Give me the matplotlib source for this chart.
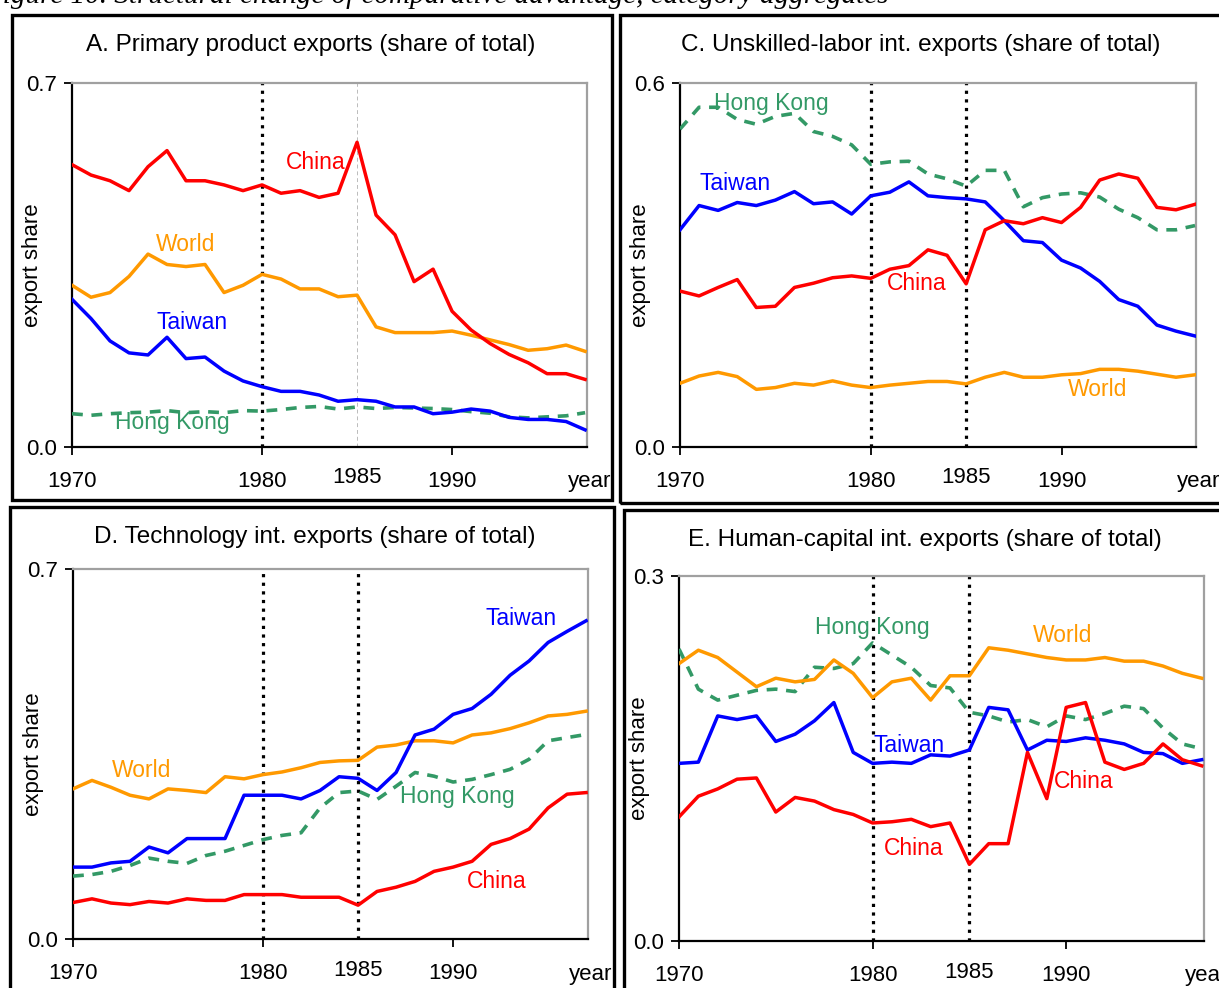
import matplotlib
matplotlib.use("Agg")
import matplotlib.pyplot as plt
from matplotlib.patches import Rectangle

plt.rcParams["font.family"] = ["Liberation Sans", "DejaVu Sans"]

years = list(range(1970, 1998))

# A. Primary product exports
a_china = [0.543, 0.523, 0.512, 0.493, 0.539, 0.570, 0.512, 0.512, 0.504, 0.493,
           0.504, 0.488, 0.493, 0.480, 0.488, 0.586, 0.446, 0.408, 0.318, 0.342,
           0.261, 0.225, 0.199, 0.178, 0.162, 0.141, 0.141, 0.130]
a_world = [0.311, 0.288, 0.297, 0.328, 0.371, 0.351, 0.347, 0.351, 0.297, 0.311,
           0.332, 0.323, 0.304, 0.304, 0.289, 0.292, 0.231, 0.220, 0.220, 0.220,
           0.223, 0.215, 0.206, 0.197, 0.186, 0.189, 0.196, 0.184]
a_taiwan = [0.284, 0.247, 0.204, 0.181, 0.177, 0.211, 0.170, 0.173, 0.146, 0.127,
            0.116, 0.107, 0.107, 0.100, 0.088, 0.091, 0.088, 0.077, 0.077, 0.064,
            0.067, 0.073, 0.069, 0.057, 0.053, 0.053, 0.049, 0.033]
a_hk = [0.064, 0.061, 0.064, 0.066, 0.067, 0.070, 0.066, 0.068, 0.066, 0.070,
        0.069, 0.072, 0.076, 0.078, 0.073, 0.077, 0.074, 0.076, 0.075, 0.074,
        0.072, 0.068, 0.065, 0.058, 0.056, 0.058, 0.060, 0.066]

# C. Unskilled-labor intensive exports
c_china = [0.257, 0.249, 0.263, 0.276, 0.230, 0.232, 0.263, 0.270, 0.279, 0.282,
           0.278, 0.293, 0.299, 0.325, 0.316, 0.269, 0.358, 0.373, 0.368, 0.378,
           0.370, 0.395, 0.440, 0.450, 0.443, 0.395, 0.391, 0.400]
c_world = [0.105, 0.117, 0.123, 0.116, 0.095, 0.098, 0.105, 0.102, 0.109, 0.102,
           0.098, 0.102, 0.105, 0.108, 0.108, 0.104, 0.115, 0.123, 0.115, 0.115,
           0.119, 0.121, 0.128, 0.128, 0.125, 0.120, 0.115, 0.119]
c_taiwan = [0.358, 0.398, 0.390, 0.403, 0.398, 0.407, 0.421, 0.401, 0.404, 0.384,
            0.414, 0.420, 0.437, 0.414, 0.411, 0.409, 0.404, 0.373, 0.340, 0.337,
            0.308, 0.295, 0.273, 0.243, 0.232, 0.201, 0.191, 0.183]
c_hk = [0.524, 0.560, 0.560, 0.540, 0.532, 0.545, 0.550, 0.520, 0.512, 0.498,
        0.466, 0.470, 0.471, 0.450, 0.442, 0.430, 0.456, 0.456, 0.396, 0.411,
        0.417, 0.419, 0.412, 0.392, 0.378, 0.358, 0.358, 0.365]

# D. Technology intensive exports
d_china = [0.069, 0.076, 0.068, 0.065, 0.071, 0.068, 0.076, 0.073, 0.073, 0.084,
           0.084, 0.084, 0.079, 0.079, 0.079, 0.064, 0.090, 0.098, 0.109, 0.128,
           0.136, 0.147, 0.179, 0.190, 0.208, 0.248, 0.274, 0.277]
d_world = [0.284, 0.300, 0.287, 0.272, 0.265, 0.284, 0.281, 0.277, 0.307, 0.303,
           0.311, 0.316, 0.324, 0.334, 0.337, 0.338, 0.363, 0.367, 0.375, 0.375,
           0.371, 0.386, 0.390, 0.398, 0.409, 0.422, 0.425, 0.431]
d_taiwan = [0.136, 0.136, 0.144, 0.147, 0.174, 0.163, 0.190, 0.190, 0.190, 0.272,
            0.272, 0.272, 0.265, 0.281, 0.307, 0.304, 0.281, 0.315, 0.386, 0.397,
            0.425, 0.436, 0.463, 0.499, 0.526, 0.561, 0.582, 0.602]
d_hk = [0.119, 0.122, 0.128, 0.139, 0.153, 0.147, 0.143, 0.158, 0.166, 0.177,
        0.188, 0.196, 0.201, 0.248, 0.277, 0.280, 0.264, 0.289, 0.315, 0.308,
        0.297, 0.302, 0.311, 0.321, 0.340, 0.375, 0.381, 0.387]

# E. Human-capital intensive exports
e_china = [0.102, 0.119, 0.125, 0.133, 0.134, 0.106, 0.118, 0.115, 0.108, 0.104,
           0.097, 0.098, 0.100, 0.094, 0.097, 0.063, 0.080, 0.080, 0.155, 0.117,
           0.192, 0.196, 0.147, 0.141, 0.146, 0.162, 0.149, 0.144]
e_world = [0.228, 0.239, 0.233, 0.221, 0.209, 0.216, 0.213, 0.215, 0.231, 0.220,
           0.200, 0.213, 0.216, 0.198, 0.218, 0.218, 0.241, 0.239, 0.236, 0.233,
           0.231, 0.231, 0.233, 0.230, 0.230, 0.226, 0.220, 0.216]
e_taiwan = [0.146, 0.147, 0.185, 0.182, 0.185, 0.164, 0.170, 0.181, 0.196, 0.155,
            0.146, 0.147, 0.146, 0.153, 0.152, 0.157, 0.192, 0.190, 0.157, 0.165,
            0.164, 0.167, 0.165, 0.162, 0.155, 0.154, 0.146, 0.149]
e_hk = [0.240, 0.207, 0.198, 0.202, 0.206, 0.207, 0.205, 0.225, 0.224, 0.228,
        0.245, 0.235, 0.225, 0.210, 0.208, 0.188, 0.185, 0.180, 0.182, 0.176,
        0.185, 0.182, 0.187, 0.193, 0.191, 0.175, 0.162, 0.158]

RED = "#ff0000"
BLUE = "#0000ff"
ORANGE = "#ff9900"
GREEN = "#339966"

W, H = 1219, 988
fig = plt.figure(figsize=(W / 100, H / 100), dpi=100)


def px_box(x0, y0, x1, y1):
    # pixel box (top-left origin) -> figure fraction rect
    return [x0 / W, 1 - y1 / H, (x1 - x0) / W, (y1 - y0) / H]


def panel(rect, xmax, ymax, china, world, taiwan, hk, labels, grey85=False):
    ax = fig.add_axes(px_box(*rect))
    ax.plot(years, hk, color=GREEN, lw=2.6, dashes=(3.0, 2.4), zorder=3)
    ax.plot(years, world, color=ORANGE, lw=2.5, zorder=4)
    ax.plot(years, taiwan, color=BLUE, lw=2.5, zorder=5)
    ax.plot(years, china, color=RED, lw=2.5, zorder=6)

    ax.axvline(1980, color="black", lw=2.3, dashes=(1, 1.7), zorder=2)
    if grey85:
        ax.axvline(1985, color="#bbbbbb", lw=0.7, dashes=(4, 3), zorder=2)
    else:
        ax.axvline(1985, color="black", lw=2.3, dashes=(1, 1.7), zorder=2)

    ax.set_xlim(1970, xmax)
    ax.set_ylim(0, ymax)
    ax.set_yticks([0, ymax])
    ax.set_yticklabels(["0.0", f"{ymax:.1f}"])
    ax.set_xticks([1970, 1980, 1990])
    ax.set_xticklabels(["1970", "1980", "1990"])
    ax.tick_params(axis="both", direction="out", length=6, width=1.3,
                   labelsize=16, colors="black")
    ax.tick_params(axis="x", pad=11)
    ax.tick_params(axis="y", pad=5)
    for s in ("top", "right"):
        ax.spines[s].set_color("#a0a0a0")
        ax.spines[s].set_linewidth(1.6)
    for s in ("left", "bottom"):
        ax.spines[s].set_linewidth(1.6)

    ax.text(1985, -0.085 * ymax, "1985", ha="center", va="center", fontsize=16)
    ax.text(xmax + 0.15, -0.095 * ymax, "year", ha="center", va="center", fontsize=16)
    ax.set_ylabel("export share", fontsize=16)
    width_px = rect[2] - rect[0]
    ax.yaxis.set_label_coords(-29 / width_px, 0.5)

    for txt, x, y, c in labels:
        ax.text(x, y, txt, color=c, fontsize=16.5, ha="center", va="center", zorder=7)
    return ax


panel((72, 83, 587, 447), 1997.1, 0.7, a_china, a_world, a_taiwan, a_hk,
      [("China", 1982.8, 0.548, RED), ("World", 1976.0, 0.390, ORANGE),
       ("Taiwan", 1976.3, 0.240, BLUE), ("Hong Kong", 1975.3, 0.048, GREEN)],
      grey85=True)
panel((680, 83, 1196, 447), 1997.05, 0.6, c_china, c_world, c_taiwan, c_hk,
      [("Hong Kong", 1974.8, 0.567, GREEN), ("Taiwan", 1972.9, 0.434, BLUE),
       ("China", 1982.4, 0.269, RED), ("World", 1991.9, 0.094, ORANGE)])
panel((73, 569, 588, 939), 1997.1, 0.7, d_china, d_world, d_taiwan, d_hk,
      [("Taiwan", 1993.6, 0.607, BLUE), ("World", 1973.6, 0.318, ORANGE),
       ("Hong Kong", 1990.2, 0.269, GREEN), ("China", 1992.3, 0.108, RED)])
panel((679, 576, 1204, 941), 1997.12, 0.3, e_china, e_world, e_taiwan, e_hk,
      [("Hong Kong", 1980.0, 0.258, GREEN), ("World", 1989.8, 0.251, ORANGE),
       ("Taiwan", 1981.9, 0.161, BLUE), ("China", 1990.9, 0.131, RED),
       ("China", 1982.1, 0.076, RED)])

# panel frames
for x0, y0, x1, y1 in [(12, 15, 612, 500), (620, 15, 1225, 503),
                       (10, 507, 614, 995), (624, 510, 1225, 995)]:
    fig.patches.append(Rectangle((x0 / W, 1 - y1 / H), (x1 - x0) / W, (y1 - y0) / H,
                                 transform=fig.transFigure, fill=False,
                                 lw=2.4, edgecolor="black"))

# panel titles
for txt, x, y in [("A. Primary product exports (share of total)", 311, 45),
                  ("C. Unskilled-labor int. exports (share of total)", 921, 45),
                  ("D. Technology int. exports (share of total)", 315, 537),
                  ("E. Human-capital int. exports (share of total)", 925, 540)]:
    fig.text(x / W, 1 - y / H, txt, ha="center", va="center", fontsize=17.5)

fig.text(-0.012, 1 - 3 / H, "Figure 10. Structural change of comparative advantage, category aggregates",
         ha="left", va="baseline", fontsize=21, style="italic",
         family=["Liberation Serif", "DejaVu Serif"])

fig.savefig("out.png", dpi=100)
